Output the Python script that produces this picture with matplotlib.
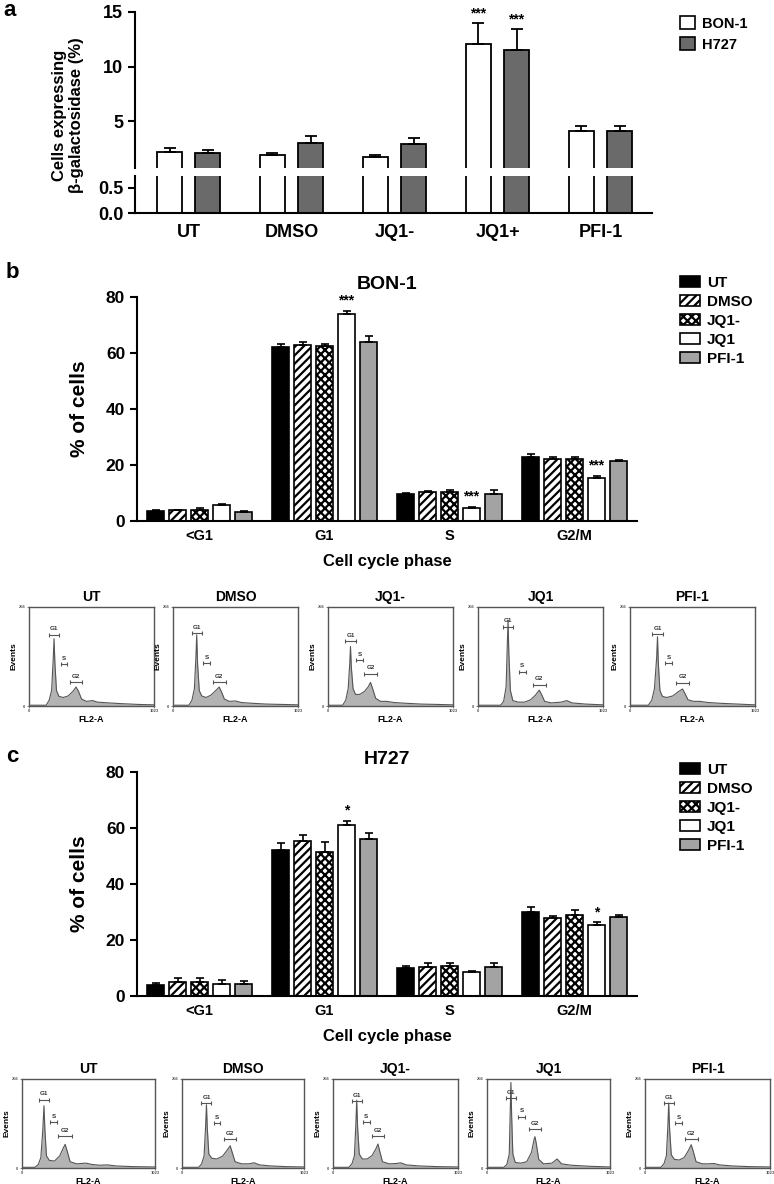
import numpy as np
import matplotlib.pyplot as plt
from matplotlib.patches import Patch

plt.rcParams['font.family'] = ['Liberation Sans', 'DejaVu Sans']
plt.rcParams['font.weight'] = 'bold'
plt.rcParams['axes.labelweight'] = 'bold'
plt.rcParams['axes.titleweight'] = 'bold'
plt.rcParams['hatch.linewidth'] = 1.6

W, H = 774, 1184

# panel a: SA-beta-gal positive cells (%)
a_groups = ["UT", "DMSO", "JQ1-", "JQ1+", "PFI-1"]
a_bon = [2.2, 1.9, 1.75, 12.05, 4.15]
a_bon_err = [0.35, 0.2, 0.2, 1.9, 0.4]
a_h727 = [2.1, 3.05, 2.95, 11.55, 4.1]
a_h727_err = [0.3, 0.6, 0.5, 1.85, 0.45]
a_stars = ["", "", "", "***", ""]

# panels b/c: cell cycle distribution, rows = treatments, cols = phases
phases = ["<G1", "G1", "S", "G2/M"]
treatments = ["UT", "DMSO", "JQ1-", "JQ1", "PFI-1"]
bon_mean = [[3.5, 62.0, 9.6, 23.0],
            [3.8, 62.8, 10.3, 22.0],
            [4.0, 62.4, 10.4, 22.2],
            [5.6, 73.9, 4.7, 15.3],
            [3.2, 64.1, 9.8, 21.4]]
bon_err = [[0.5, 1.3, 0.5, 1.0],
           [0.3, 1.0, 0.4, 1.0],
           [0.5, 0.9, 0.5, 0.8],
           [0.6, 1.0, 0.3, 0.8],
           [0.3, 1.8, 1.4, 0.5]]
bon_stars = [(3, 1, "***"), (3, 2, "***"), (3, 3, "***")]

h727_mean = [[3.9, 52.1, 10.1, 30.1],
             [5.1, 55.5, 10.5, 27.7],
             [5.1, 51.4, 10.7, 29.0],
             [4.3, 61.1, 8.7, 25.5],
             [4.3, 56.1, 10.5, 28.3]]
h727_err = [[0.9, 2.4, 0.6, 1.8],
            [1.4, 2.0, 1.2, 1.0],
            [1.2, 3.7, 1.0, 1.6],
            [1.3, 1.5, 0.3, 0.8],
            [1.1, 2.0, 1.2, 0.8]]
h727_stars = [(3, 1, "*"), (3, 3, "*")]

# flow cytometry histograms: (FL2-A channel, events)
bon_hist = {
    "UT": [(0, 2), (140, 2), (165, 15), (185, 40), (198, 120), (205, 174), (212, 110), (225, 40), (245, 25),
           (280, 22), (320, 26), (360, 38), (385, 49), (405, 38), (430, 18), (470, 12), (520, 14), (560, 10),
           (650, 8), (760, 6), (900, 4), (1023, 3)],
    "DMSO": [(0, 2), (130, 2), (155, 15), (175, 45), (188, 130), (194, 184), (201, 110), (215, 40), (235, 26),
             (270, 22), (310, 28), (350, 40), (378, 49), (398, 36), (420, 18), (460, 12), (510, 13), (560, 9),
             (650, 7), (760, 5), (900, 4), (1023, 3)],
    "JQ1-": [(0, 2), (120, 2), (145, 15), (165, 45), (178, 110), (184, 154), (191, 100), (205, 45), (225, 30),
             (260, 30), (300, 38), (330, 50), (348, 61), (365, 45), (390, 20), (430, 12), (480, 12), (540, 9),
             (640, 7), (760, 5), (900, 4), (1023, 3)],
    "JQ1": [(0, 2), (185, 2), (210, 12), (230, 50), (240, 160), (246, 222), (252, 140), (265, 40), (285, 14),
            (330, 10), (380, 10), (430, 16), (470, 28), (501, 41), (520, 30), (545, 12), (600, 8), (680, 10),
            (726, 14), (770, 8), (880, 5), (1023, 3)],
    "PFI-1": [(0, 2), (150, 2), (178, 15), (200, 45), (218, 125), (225, 179), (232, 110), (245, 40), (265, 25),
              (300, 22), (350, 26), (400, 38), (430, 44), (450, 32), (475, 16), (520, 12), (570, 12), (640, 9),
              (740, 7), (880, 5), (1023, 3)],
}
h727_hist = {
    "UT": [(0, 2), (100, 2), (125, 10), (145, 30), (160, 110), (169, 179), (176, 110), (188, 35), (210, 22),
           (250, 20), (290, 35), (318, 58), (332, 68), (348, 48), (370, 18), (420, 12), (491, 14), (540, 10),
           (600, 8), (655, 9), (720, 6), (850, 4), (1023, 3)],
    "DMSO": [(0, 2), (140, 2), (165, 12), (185, 35), (198, 120), (205, 182), (212, 115), (225, 40), (250, 28),
             (290, 26), (340, 34), (380, 52), (404, 64), (420, 46), (445, 18), (500, 12), (560, 12), (604, 15),
             (650, 9), (740, 6), (870, 4), (1023, 3)],
    "JQ1-": [(0, 2), (130, 2), (155, 12), (175, 35), (187, 125), (194, 195), (201, 120), (215, 40), (240, 26),
             (280, 26), (320, 36), (352, 56), (368, 69), (384, 46), (405, 18), (460, 12), (520, 13), (552, 15),
             (600, 9), (700, 6), (850, 4), (1023, 3)],
    "JQ1": [(0, 2), (140, 2), (165, 10), (185, 40), (193, 160), (199, 246), (205, 150), (215, 40), (235, 16),
            (280, 14), (330, 18), (370, 45), (390, 80), (399, 90), (410, 70), (430, 25), (470, 12), (540, 14),
            (583, 26), (620, 12), (700, 8), (850, 5), (1023, 3)],
    "PFI-1": [(0, 2), (130, 2), (155, 12), (175, 35), (187, 120), (194, 187), (201, 115), (215, 38), (240, 25),
              (280, 23), (320, 30), (355, 50), (378, 67), (395, 48), (418, 18), (470, 12), (520, 12), (563, 13),
              (610, 9), (710, 6), (850, 4), (1023, 3)],
}
# gate marker heights (events) for G1, S, G2
bon_gates = [(184, 108, 62), (188, 110, 62), (168, 118, 84), (205, 88, 55), (186, 110, 60)]
h727_gates = [(197, 133, 92), (187, 130, 84), (192, 133, 92), (202, 148, 113), (187, 130, 82)]

face = ["black", "white", "white", "white", "#a3a3a3"]
hatch = [None, "////", "xxxx", None, None]


def box(x0, y0, x1, y1):
    return [x0 / W, 1 - y1 / H, (x1 - x0) / W, (y1 - y0) / H]


fig = plt.figure(figsize=(W / 100, H / 100), dpi=100)

# ---------------- panel a ----------------
ax_top = fig.add_axes(box(135, 12, 652, 168))
ax_bot = fig.add_axes(box(135, 176, 652, 213))
xa = np.arange(len(a_groups))
for ax in (ax_top, ax_bot):
    ax.bar(xa - 0.185, a_bon, 0.25, color="white", edgecolor="k", lw=1.3)
    ax.bar(xa + 0.185, a_h727, 0.25, color="#6a6a6a", edgecolor="k", lw=1.3)
    ax.set_xlim(-0.52, 4.5)
    ax.spines[["top", "right"]].set_visible(False)
    for s in ax.spines.values():
        s.set_linewidth(1.5)
    ax.tick_params(axis="y", width=1.5, length=5, labelsize=13)
ax_top.errorbar(xa - 0.185, a_bon, yerr=[np.zeros(5), a_bon_err], fmt="none",
                ecolor="k", elinewidth=1.3, capsize=4, capthick=1.3)
ax_top.errorbar(xa + 0.185, a_h727, yerr=[np.zeros(5), a_h727_err], fmt="none",
                ecolor="k", elinewidth=1.3, capsize=4, capthick=1.3)
for i, s in enumerate(a_stars):
    if s:
        ax_top.text(i - 0.185, a_bon[i] + a_bon_err[i] + 0.25, s, ha="center", va="bottom", fontsize=10)
        ax_top.text(i + 0.185, a_h727[i] + a_h727_err[i] + 0.25, s, ha="center", va="bottom", fontsize=10)
ax_top.set_ylim(0.73, 15)
ax_top.set_yticks([5, 10, 15])
ax_top.spines["bottom"].set_visible(False)
ax_top.set_xticks([])
ax_bot.set_ylim(0, 0.74)
ax_bot.set_yticks([0, 0.5])
ax_bot.set_yticklabels(["0.0", "0.5"])
ax_bot.set_xticks(xa)
ax_bot.set_xticklabels(a_groups, fontsize=13)
ax_bot.tick_params(axis="x", length=0, pad=8)
fig.text(68 / W, 1 - 115 / H, "Cells expressing\n\u03b2-galactosidase (%)", rotation=90,
         ha="center", va="center", fontsize=12, linespacing=1.1)
fig.text(3 / W, 1 - 10 / H, "a", fontsize=16, va="center")
ax_top.legend(handles=[Patch(facecolor="white", edgecolor="k", lw=1.2, label="BON-1"),
                       Patch(facecolor="#6a6a6a", edgecolor="k", lw=1.2, label="H727")],
              loc="upper left", bbox_to_anchor=(680 / W, 1 - 16 / H), bbox_transform=fig.transFigure,
              frameon=False, fontsize=10.5, handlelength=1.0, handleheight=1.0, handletextpad=0.5,
              labelspacing=0.45, borderpad=0, borderaxespad=0)


# ---------------- panels b/c ----------------
def cycle_panel(top, bottom, mean, err, stars, title, leg_y):
    ax = fig.add_axes(box(137, top, 637, bottom))
    xs = np.arange(len(phases))
    offs = (np.arange(5) - 2) * 0.176
    for i, t in enumerate(treatments):
        ax.bar(xs + offs[i], mean[i], 0.133, color=face[i], hatch=hatch[i], edgecolor="k", lw=1.2, label=t)
        ax.errorbar(xs + offs[i], mean[i], yerr=[np.zeros(4), err[i]], fmt="none",
                    ecolor="k", elinewidth=1.2, capsize=3, capthick=1.2)
    for i, j, s in stars:
        ax.text(j + offs[i], mean[i][j] + err[i][j] + 1.2, s, ha="center", va="bottom", fontsize=10)
    ax.set_xlim(-0.5, 3.5)
    ax.set_ylim(0, 80)
    ax.set_yticks([0, 20, 40, 60, 80])
    ax.set_xticks(xs)
    ax.set_xticklabels(phases, fontsize=10.5)
    ax.tick_params(axis="x", length=0, pad=6)
    ax.tick_params(axis="y", width=1.5, length=5, labelsize=12.5)
    ax.spines[["top", "right"]].set_visible(False)
    for s in ax.spines.values():
        s.set_linewidth(1.5)
    ax.set_xlabel("Cell cycle phase", fontsize=12, labelpad=8)
    ax.set_ylabel("% of cells", fontsize=15, labelpad=12)
    ax.set_title(title, fontsize=14, pad=6)
    ax.legend(loc="upper left", bbox_to_anchor=(680 / W, 1 - leg_y / H), bbox_transform=fig.transFigure,
              frameon=False, fontsize=11, handlelength=1.3, handleheight=0.7, handletextpad=0.45,
              labelspacing=0.33, borderpad=0, borderaxespad=0)
    return ax


def hist_row(hists, gates, boxes, top, bottom):
    for k, t in enumerate(treatments):
        x0, x1 = boxes[k]
        ax = fig.add_axes(box(x0, top, x1, bottom))
        ch = np.array([p[0] for p in hists[t]])
        ev = np.array([p[1] for p in hists[t]])
        ax.fill_between(ch, ev, color="#b3b3b3", lw=0)
        ax.plot(ch, ev, color="#555555", lw=0.8)
        g1 = ch[np.argmax(ev)]
        late = ch > g1 + 100
        g2 = ch[late][np.argmax(ev[late])]
        gy1, gys, gy2 = gates[k]
        for xc, hw, gy, lab in [(g1, 42, gy1, "G1"), (g1 + 0.45 * (g2 - g1), 28, gys, "S"), (g2, 52, gy2, "G2")]:
            ax.errorbar(xc, gy, xerr=hw, fmt="none", ecolor="#555555", elinewidth=0.8, capsize=1.5, capthick=0.8)
            ax.text(xc, gy + 9, lab, ha="center", va="bottom", fontsize=4.5, color="#333333")
        ax.set_xlim(0, 1023)
        ax.set_ylim(0, 256)
        ax.set_xticks([0, 1023])
        ax.set_xticklabels(["0", "1023"], fontsize=3)
        ax.set_yticks([0, 256])
        ax.set_yticklabels(["0", "256"], fontsize=3)
        ax.tick_params(length=1.5, width=0.5, pad=1, colors="#555555")
        for s in ax.spines.values():
            s.set_color("#555555")
            s.set_linewidth(1.0)
        ax.set_xlabel("FL2-A", fontsize=6.5, labelpad=1)
        ax.set_ylabel("Events", fontsize=6, labelpad=1)
        ax.set_title(t, fontsize=10, pad=4)


cycle_panel(297, 521, bon_mean, bon_err, bon_stars, "BON-1", 276)
fig.text(6 / W, 1 - 272 / H, "b", fontsize=16, va="center")
hist_row(bon_hist, bon_gates, [(29, 154), (173, 298), (328, 453), (478, 603), (630, 755)], 607, 706)

cycle_panel(772, 996, h727_mean, h727_err, h727_stars, "H727", 763)
fig.text(6 / W, 1 - 757 / H, "c", fontsize=16, va="center")
hist_row(h727_hist, h727_gates, [(22, 155), (182, 304), (333, 458), (487, 610), (645, 770)], 1079, 1168)

fig.savefig("out.png", dpi=100)
